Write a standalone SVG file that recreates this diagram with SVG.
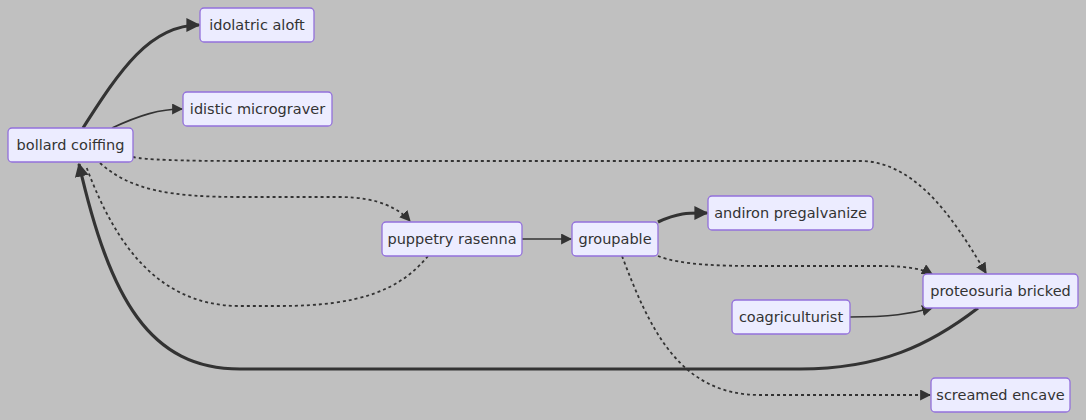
<svg xmlns="http://www.w3.org/2000/svg" width="1086" height="420" viewBox="0 0 1086 420">
<style>
.node rect{fill:#ECECFF;stroke:#9370DB;stroke-width:1.3}
.node text{font-family:"DejaVu Sans",Verdana,sans-serif;font-size:14.5px;fill:#333;text-anchor:middle;dominant-baseline:central}
.e{fill:none;stroke:#333;stroke-width:1.6}
.thick{stroke-width:3.2}
.dot{stroke-dasharray:3 3;stroke-width:1.8}
</style>
<defs>
<marker id="ah" viewBox="0 0 10 10" refX="9" refY="5" markerWidth="11" markerHeight="11" markerUnits="userSpaceOnUse" orient="auto"><path d="M0,0L10,5L0,10z" fill="#333"/></marker>
<marker id="ahb" viewBox="0 0 10 10" refX="9" refY="5" markerWidth="14" markerHeight="14" markerUnits="userSpaceOnUse" orient="auto"><path d="M0,0L10,5L0,10z" fill="#333"/></marker>
</defs>
<rect width="1086" height="420" fill="#c0c0c0"/>
<g id="edges">
<path class="e thick" d="M83,128 C120,70 150,25 199,25" marker-end="url(#ahb)"/>
<path class="e" d="M112,128 C140,115 160,109 182,109" marker-end="url(#ah)"/>
<path class="e dot" d="M133,157 Q150,161 240,161 L860,161 C920,161 960,230 986,273" marker-end="url(#ah)"/>
<path class="e dot" d="M100,163 C130,190 170,197 240,197 L340,197 C380,197 400,210 410,221" marker-end="url(#ah)"/>
<path class="e dot" d="M428,256 C400,290 360,306 280,306 L240,306 C150,306 110,230 86,166"/>
<path class="e" d="M522,239 L571,239" marker-end="url(#ah)"/>
<path class="e thick" d="M658,222 C680,212 690,213 707,213" marker-end="url(#ahb)"/>
<path class="e dot" d="M658,256 C680,265 720,266 760,266 L880,266 C910,266 925,270 932,274" marker-end="url(#ah)"/>
<path class="e dot" d="M622,256 C650,330 680,395 760,395 L930,395" marker-end="url(#ah)"/>
<path class="e" d="M850,317 C890,317 910,314 932,308" marker-end="url(#ah)"/>
<path class="e thick" d="M978,308 C930,345 880,369 800,369 L240,369 C150,369 110,300 79,164" marker-end="url(#ahb)"/>
</g>
<g id="n-idolatric" class="node"><rect x="200" y="8" width="114" height="34" rx="4"/><text x="257" y="25">idolatric aloft</text></g>
<g id="n-idistic" class="node"><rect x="183" y="92" width="149" height="34" rx="4"/><text x="257.5" y="109">idistic micrograver</text></g>
<g id="n-bollard" class="node"><rect x="8" y="128" width="125" height="34" rx="4"/><text x="70.5" y="145">bollard coiffing</text></g>
<g id="n-puppetry" class="node"><rect x="382" y="222" width="140" height="34" rx="4"/><text x="452" y="239">puppetry rasenna</text></g>
<g id="n-groupable" class="node"><rect x="572" y="222" width="86" height="34" rx="4"/><text x="615" y="239">groupable</text></g>
<g id="n-andiron" class="node"><rect x="708" y="196" width="165" height="34" rx="4"/><text x="790.5" y="213">andiron pregalvanize</text></g>
<g id="n-proteosuria" class="node"><rect x="923" y="274" width="155" height="34" rx="4"/><text x="1000.5" y="291">proteosuria bricked</text></g>
<g id="n-coagri" class="node"><rect x="732" y="300" width="118" height="34" rx="4"/><text x="791" y="317">coagriculturist</text></g>
<g id="n-screamed" class="node"><rect x="931" y="378" width="139" height="34" rx="4"/><text x="1000.5" y="395">screamed encave</text></g>
</svg>
